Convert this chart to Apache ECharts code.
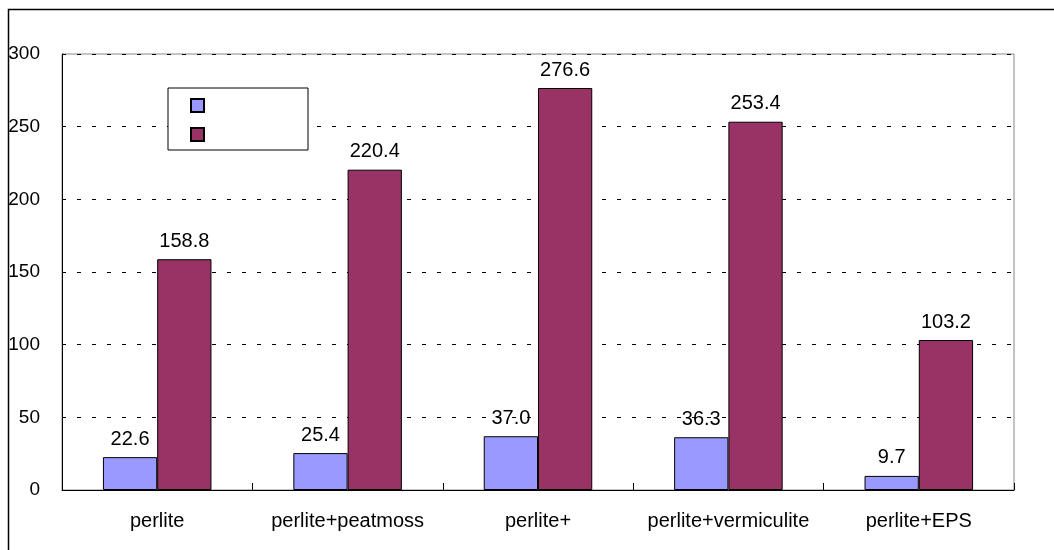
<!DOCTYPE html>
<html>
<head>
<meta charset="utf-8">
<script src="https://cdn.jsdelivr.net/npm/echarts@6/dist/echarts.min.js"></script>
<style>html,body{margin:0;padding:0;background:#fff;}#c{width:1054px;height:550px;}</style>
</head>
<body>
<div id="c"></div>
<script>
const categories = ['perlite', 'perlite+peatmoss', 'perlite+', 'perlite+vermiculite', 'perlite+EPS'];
const series1 = [22.6, 25.4, 37.0, 36.3, 9.7];
const series2 = [158.8, 220.4, 276.6, 253.4, 103.2];
const seriesNames = [' ', '  '];

const FONT = 'Liberation Sans, Arial, sans-serif';
const chart = echarts.init(document.getElementById('c'));
const labelOpt = {
  show: true, position: 'top', distance: 8, color: '#000',
  fontFamily: FONT, fontSize: 20,
  formatter: p => p.value.toFixed(1)
};
chart.setOption({
  animation: false,
  backgroundColor: '#fff',
  graphic: [{
    type: 'rect', left: 6, top: 7, z: -1,
    shape: { width: 1100, height: 600 },
    style: { fill: 'none', stroke: '#000', lineWidth: 1.5 }
  }],
  grid: { left: 62, right: 40, top: 54, bottom: 60, show: true, borderColor: '#888', borderWidth: 1, backgroundColor: 'transparent' },
  legend: {
    orient: 'vertical', left: 168, top: 88,
    padding: [10, 103, 8, 22],
    itemWidth: 13, itemHeight: 13, itemGap: 14,
    borderColor: '#000', borderWidth: 1,
    backgroundColor: '#fff',
    icon: 'rect',
    formatter: () => '',
    data: seriesNames
  },
  xAxis: {
    type: 'category', data: categories,
    axisLine: { lineStyle: { color: '#000', width: 1 } },
    axisTick: { show: true, inside: true, length: 7, lineStyle: { color: '#000' } },
    axisLabel: { color: '#000', fontFamily: FONT, fontSize: 20, margin: 21, interval: 0 }
  },
  yAxis: {
    type: 'value', min: 0, max: 300, interval: 50,
    axisLine: { show: true, lineStyle: { color: '#000', width: 1 } },
    axisTick: { show: false },
    axisLabel: { color: '#000', fontFamily: FONT, fontSize: 19, margin: 22 },
    splitLine: { show: true, lineStyle: { color: '#000', type: [4, 11], width: 1 } }
  },
  series: [
    {
      name: seriesNames[0], type: 'bar', data: series1,
      barGap: '0%', barCategoryGap: '43%',
      itemStyle: { color: '#9999FF', borderColor: '#000', borderWidth: 1 },
      label: labelOpt
    },
    {
      name: seriesNames[1], type: 'bar', data: series2,
      itemStyle: { color: '#993366', borderColor: '#000', borderWidth: 1 },
      label: labelOpt
    }
  ]
});
</script>
</body>
</html>
